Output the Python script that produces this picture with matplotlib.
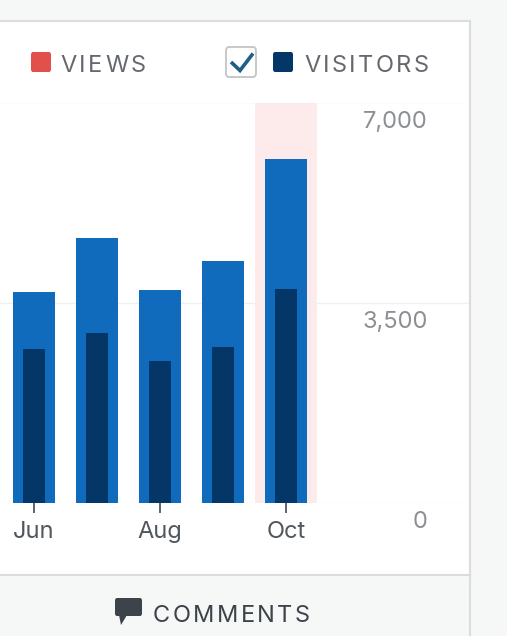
import matplotlib
matplotlib.use("Agg")
import matplotlib.pyplot as plt
from matplotlib.patches import Rectangle, FancyBboxPatch, Polygon
from matplotlib.lines import Line2D
import matplotlib.transforms as mtransforms

plt.rcParams['font.family'] = ['Inter', 'DejaVu Sans']

# Datos
meses = ['Jun', 'Jul', 'Aug', 'Sep', 'Oct']
vistas = [3680, 4630, 3720, 4220, 6010]
visitantes = [2690, 2970, 2480, 2730, 3730]
etiquetas_x = ['Jun', '', 'Aug', '', 'Oct']
valores_y = [0, 3500, 7000]
etiquetas_y = ['0', '3,500', '7,000']
mes_resaltado = 'Oct'

# Colores
c_fondo = '#f6f7f7'
c_borde = '#dcdcde'
c_vistas = '#116bbd'
c_visitantes = '#043767'
c_rojo = '#e2504c'
c_resalte = '#fcebea'

W, H = 507, 636
fig = plt.figure(figsize=(W / 100, H / 100), dpi=100)
fig.patch.set_facecolor(c_fondo)


def px(x, y):
    return x / W, 1 - y / H


# Panel blanco
x0, y0 = px(0, 575)
x1, y1 = px(470, 21)
fig.patches.append(Rectangle((x0, y0), x1 - x0, y1 - y0, transform=fig.transFigure,
                             facecolor='white', edgecolor='none', zorder=-5))
fig.lines.append(Line2D([px(0, 0)[0], px(470, 0)[0]], [px(0, 21)[1]] * 2,
                        transform=fig.transFigure, color=c_borde, lw=1.5))
fig.lines.append(Line2D([px(0, 0)[0], px(470, 0)[0]], [px(0, 575)[1]] * 2,
                        transform=fig.transFigure, color=c_borde, lw=1.5))
fig.lines.append(Line2D([px(470, 0)[0]] * 2, [px(0, 21)[1], 0],
                        transform=fig.transFigure, color=c_borde, lw=1.5))

# Ejes del gráfico
ax = fig.add_axes([0, (H - 502.5) / H, 470 / W, 400 / H])
ax.set_zorder(2)
ax.set_facecolor('none')
xs = list(range(len(meses)))
ax.set_xlim(-34 / 63, (470 - 34) / 63)
ax.set_ylim(0, 7000)

i_res = meses.index(mes_resaltado)
ax.axvspan(i_res - 0.49, i_res + 0.49, color=c_resalte, zorder=0, lw=0)
for v in valores_y:
    ax.axhline(v, color='#f0f0f1', lw=1, zorder=0.5)

ax.bar(xs, vistas, width=0.667, color=c_vistas, zorder=2)
ax.bar(xs, visitantes, width=0.35, color=c_visitantes, zorder=3)

for s in ax.spines.values():
    s.set_visible(False)
ax.set_yticks([])
ax.set_xticks([x for x, e in zip(xs, etiquetas_x) if e])
ax.set_xticklabels([e for e in etiquetas_x if e], fontsize=17, color='#50575e')
ax.tick_params(axis='x', length=7, width=1.3, color='#50575e', pad=6.5)

tr = mtransforms.offset_copy(ax.get_yaxis_transform(), fig=fig, y=-13.8, units='points')
for v, e in zip(valores_y, etiquetas_y):
    ax.text(428 / 470, v, e, transform=tr, ha='right', va='center',
            fontsize=17, color='#8c8f94')


# Texto con espaciado entre letras
def texto_espaciado(texto, xi, xf, yc, color, size):
    r = fig.canvas.get_renderer()
    anchos = []
    for ch in texto:
        t = fig.text(0, 0, ch, fontsize=size)
        anchos.append(t.get_window_extent(r).width)
        t.remove()
    extra = ((xf - xi) - sum(anchos)) / (len(texto) - 1)
    x = xi
    for ch, w in zip(texto, anchos):
        fx, fy = px(x, yc)
        fig.text(fx, fy, ch, fontsize=size, color=color, ha='left', va='center')
        x += w + extra


# Leyenda
rx, ry = px(31, 72)
fig.patches.append(FancyBboxPatch((rx, ry), 20 / W, 20 / H, boxstyle='round,pad=0,rounding_size=0.004',
                                  transform=fig.transFigure, facecolor=c_rojo, edgecolor='none'))
texto_espaciado('VIEWS', 60, 146, 65.5, '#646970', 17)

bx, by = px(226, 77)
fig.patches.append(FancyBboxPatch((bx, by), 30 / W, 30 / H, boxstyle='round,pad=0,rounding_size=0.006',
                                  transform=fig.transFigure, facecolor='white',
                                  edgecolor='#c3c4c7', lw=1.3))
cx = [px(231, 62)[0], px(240, 70.5)[0], px(253, 53.5)[0]]
cy = [px(231, 62)[1], px(240, 70.5)[1], px(253, 53.5)[1]]
fig.lines.append(Line2D(cx, cy, transform=fig.transFigure, color='#1e5f87', lw=2.6,
                        solid_capstyle='butt', solid_joinstyle='miter'))

nx, ny = px(273, 72)
fig.patches.append(FancyBboxPatch((nx, ny), 20 / W, 20 / H, boxstyle='round,pad=0,rounding_size=0.004',
                                  transform=fig.transFigure, facecolor=c_visitantes, edgecolor='none'))
texto_espaciado('VISITORS', 304, 429, 65.5, '#646970', 17)

# Pestaña de comentarios
bx, by = px(115, 616)
fig.patches.append(FancyBboxPatch((bx, by), 27 / W, 18 / H, boxstyle='round,pad=0,rounding_size=0.004',
                                  transform=fig.transFigure, facecolor='#3c434a', edgecolor='none'))
fig.patches.append(Polygon([px(119, 615), px(127, 615), px(121, 625)], closed=True,
                           transform=fig.transFigure, facecolor='#3c434a', edgecolor='none'))
texto_espaciado('COMMENTS', 153, 310, 616, '#3c434a', 17)

fig.savefig('out.png', dpi=100, facecolor=fig.get_facecolor())
